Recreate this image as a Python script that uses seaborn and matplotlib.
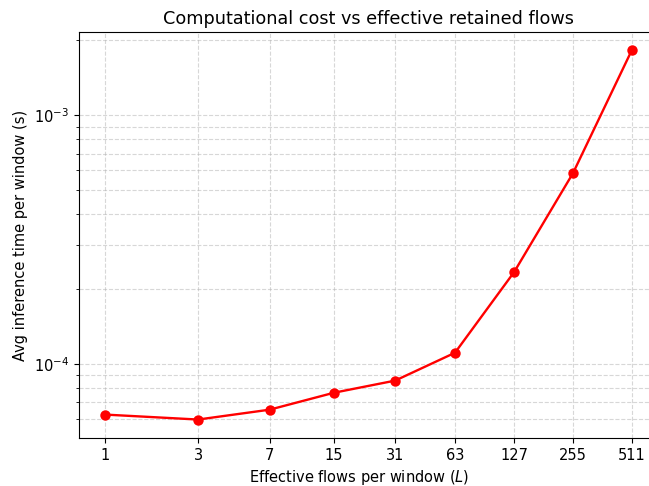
import matplotlib
matplotlib.use("Agg")
import matplotlib.pyplot as plt
import matplotlib.ticker as mticker
import seaborn as sns
import pandas as pd

flows = [1, 3, 7, 15, 31, 63, 127, 255, 511]
avg_time = [6.24e-5, 5.96e-5, 6.53e-5, 7.64e-5, 8.55e-5, 1.107e-4, 2.34e-4, 5.85e-4, 1.823e-3]
tick_labels = ["1", "3", "7", "15", "31", "63", "127", "255", "511"]

df = pd.DataFrame({"L": flows, "t": avg_time})

plt.rcParams["font.size"] = 10.5
fig = plt.figure(figsize=(6.49, 4.86), dpi=100)
ax = fig.add_axes([79 / 649, 48 / 486, 579 / 649, 406 / 486])

sns.lineplot(data=df, x="L", y="t", ax=ax, color="red", marker="o",
             markersize=7.5, linewidth=1.7, markeredgewidth=0)
ax.set_xscale("log")
ax.set_yscale("log")
ax.set_xticks(flows)
ax.set_xticklabels(tick_labels)
ax.xaxis.set_minor_locator(mticker.NullLocator())
ax.tick_params(labelsize=10.5)
ax.grid(True, which="both", linestyle="--", alpha=0.5)
ax.set_title("Computational cost vs effective retained flows", fontsize=12.7)
ax.set_xlabel("Effective flows per window ($L$)", fontsize=10.5, x=0.484)
ax.set_ylabel("Avg inference time per window (s)", fontsize=10.5)

fig.savefig("out.png", dpi=100)
